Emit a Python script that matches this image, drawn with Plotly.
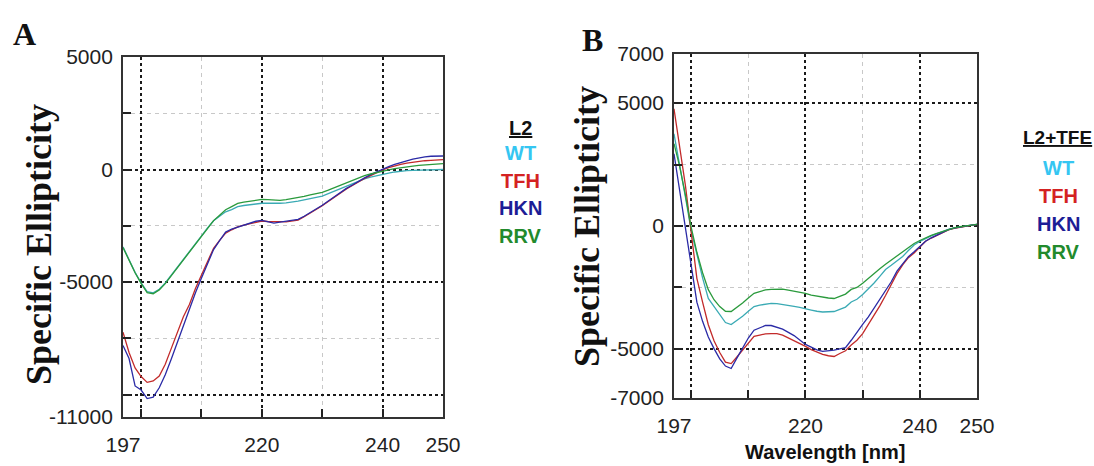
import plotly.graph_objects as go

# ---------------- data ----------------
wavelength = list(range(197, 251))

# Panel A: L2
a_wt = [-3440, -4000, -4570, -5040, -5430, -5480, -5320, -5040, -4700, -4330,
        -3980, -3640, -3290, -2950, -2600, -2280, -2080, -1880, -1780, -1650,
        -1600, -1560, -1520, -1500, -1500, -1510, -1500, -1480, -1450, -1410,
        -1350, -1290, -1240, -1180, -1070, -960, -850, -740, -630, -520,
        -420, -340, -270, -210, -160, -110, -70, -50, -40, -30,
        -20, -10, -5, 0]
a_tfh = [-7230, -8130, -8820, -9200, -9460, -9400, -9180, -8660, -7950, -7230,
         -6540, -6000, -5290, -4690, -4080, -3500, -3150, -2830, -2680, -2550,
         -2470, -2410, -2350, -2290, -2310, -2330, -2320, -2330, -2300, -2250,
         -2100, -1940, -1770, -1610, -1420, -1230, -1030, -860, -710, -550,
         -400, -270, -140, -20, 80, 160, 230, 280, 320, 370,
         390, 410, 425, 440]
a_hkn = [-7820, -8400, -9620, -9800, -10180, -10120, -9700, -9120, -8420, -7670,
         -6890, -6160, -5480, -4820, -4180, -3560, -3160, -2780, -2650, -2560,
         -2480, -2390, -2300, -2260, -2330, -2380, -2340, -2300, -2260, -2220,
         -2080, -1920, -1750, -1590, -1400, -1210, -1010, -840, -690, -520,
         -370, -230, -100, 30, 130, 230, 290, 380, 460, 520,
         560, 590, 580, 600]
a_rrv = [-3470, -4030, -4590, -5060, -5470, -5520, -5350, -5070, -4720, -4360,
         -4010, -3670, -3330, -2990, -2620, -2270, -2030, -1790, -1650, -1510,
         -1450, -1400, -1360, -1330, -1340, -1360, -1370, -1340, -1300, -1260,
         -1190, -1130, -1080, -1020, -920, -810, -700, -590, -480, -370,
         -270, -200, -130, -70, -15, 40, 85, 115, 150, 180,
         200, 225, 245, 265]

# Panel B: L2+TFE
b_wt = [3750, 2530, 1170, -180, -1190, -2110, -2950, -3270, -3640, -3930,
        -4010, -3850, -3670, -3470, -3280, -3220, -3170, -3150, -3160, -3190,
        -3220, -3270, -3310, -3350, -3420, -3470, -3500, -3490, -3480, -3390,
        -3300, -3090, -2980, -2790, -2560, -2320, -2050, -1770, -1600, -1430,
        -1240, -1000, -770, -630, -500, -400, -310, -210, -140, -80,
        -40, 10, 40, 70]
b_tfh = [4770, 3290, 1640, -250, -2130, -3100, -4020, -4670, -5150, -5540,
         -5600, -5330, -5040, -4760, -4490, -4440, -4390, -4380, -4380, -4440,
         -4550, -4660, -4780, -4900, -5030, -5130, -5220, -5280, -5310, -5190,
         -5080, -4840, -4650, -4380, -4020, -3660, -3250, -2830, -2390, -1940,
         -1580, -1290, -1100, -860, -620, -490, -380, -250, -160, -95,
         -50, 0, 40, 70]
b_hkn = [2940, 1420, -160, -1500, -3100, -3880, -4520, -4990, -5410, -5700,
         -5800, -5380, -4950, -4560, -4240, -4150, -4050, -4050, -4120, -4200,
         -4330, -4460, -4640, -4820, -4930, -5040, -5100, -5080, -5050, -5000,
         -4950, -4650, -4300, -4000, -3700, -3350, -3000, -2650, -2270, -1840,
         -1520, -1250, -1050, -850, -620, -480, -370, -250, -150, -90,
         -40, 0, 40, 70]
b_rrv = [3350, 2420, 1260, -50, -1070, -1900, -2590, -3000, -3280, -3470,
         -3480, -3310, -3130, -2930, -2740, -2670, -2600, -2580, -2560, -2570,
         -2610, -2650, -2690, -2740, -2810, -2860, -2910, -2930, -2950, -2850,
         -2770, -2580, -2500, -2330, -2120, -1920, -1740, -1560, -1390, -1230,
         -1050, -880, -710, -590, -470, -380, -300, -220, -140, -75,
         -30, 10, 40, 70]

series_names = ["WT", "TFH", "HKN", "RRV"]
line_colors = {"WT": "#3aaab4", "TFH": "#c22a2a", "HKN": "#2a2aa6", "RRV": "#2a9a3c"}
legend_colors = {"WT": "#35c6f2", "TFH": "#d42222", "HKN": "#1d1d96", "RRV": "#228a2c"}

x_tickvals = [197, 200, 220, 240, 250]
x_ticktext = ["197", "", "220", "240", "250"]
x_minor = [210, 230]
a_y_tickvals = [5000, 0, -5000, -10000, -11000]
a_y_ticktext = ["5000", "0", "-5000", "", "-11000"]
a_y_minor = [2500, -2500, -7500]
b_y_tickvals = [7000, 5000, 0, -5000, -7000]
b_y_ticktext = ["7000", "5000", "0", "-5000", "-7000"]
b_y_minor = [2500, -2500]

# ---------------- figure ----------------
fig = go.Figure()
panel_a = {"WT": a_wt, "TFH": a_tfh, "HKN": a_hkn, "RRV": a_rrv}
panel_b = {"WT": b_wt, "TFH": b_tfh, "HKN": b_hkn, "RRV": b_rrv}
for name in series_names:
    fig.add_trace(go.Scatter(x=wavelength, y=panel_a[name], mode="lines",
                             line=dict(color=line_colors[name], width=1.3),
                             xaxis="x", yaxis="y", showlegend=False))
for name in series_names:
    fig.add_trace(go.Scatter(x=wavelength, y=panel_b[name], mode="lines",
                             line=dict(color=line_colors[name], width=1.3),
                             xaxis="x2", yaxis="y2", showlegend=False))

W, H = 1094, 466


def px(x):
    return x / W


def py(y):
    return 1 - y / H


tick_font = dict(family="Liberation Sans Narrow, Arial Narrow, Liberation Sans, Arial", size=21, color="#222")


def xaxis_cfg(dom, anchor):
    return dict(domain=dom, anchor=anchor, range=[197, 250], automargin=False,
                tickmode="array", tickvals=x_tickvals, ticktext=x_ticktext,
                showgrid=True, gridcolor="#1a1a1a", griddash="3px,3px", gridwidth=2,
                ticks="inside", ticklen=8, tickwidth=1.5, tickcolor="#222",
                minor=dict(tickmode="array", tickvals=x_minor, showgrid=True,
                           gridcolor="#c8c8c8", griddash="4px,4px", gridwidth=1,
                           ticks="inside", ticklen=8, tickwidth=1.5, tickcolor="#222"),
                showline=True, mirror=True, linecolor="#333", linewidth=1.8,
                zeroline=False, tickfont=tick_font, ticklabelstandoff=8)


def yaxis_cfg(dom, anchor, rng, tv, tt, mv):
    return dict(domain=dom, anchor=anchor, range=rng, automargin=False,
                tickmode="array", tickvals=tv, ticktext=tt,
                showgrid=True, gridcolor="#1a1a1a", griddash="3px,3px", gridwidth=2,
                ticks="inside", ticklen=8, tickwidth=1.5, tickcolor="#222",
                minor=dict(tickmode="array", tickvals=mv, showgrid=True,
                           gridcolor="#c8c8c8", griddash="4px,4px", gridwidth=1,
                           ticks="inside", ticklen=8, tickwidth=1.5, tickcolor="#222"),
                showline=True, mirror=True, linecolor="#333", linewidth=1.8,
                zeroline=False, tickfont=tick_font, ticklabelstandoff=4)


fig.update_layout(
    width=W, height=H,
    margin=dict(l=0, r=0, t=0, b=0),
    paper_bgcolor="white", plot_bgcolor="white",
    showlegend=False,
    xaxis=xaxis_cfg([px(123), px(443)], "y"),
    yaxis=yaxis_cfg([py(417), py(57)], "x", [-11000, 5000],
                    a_y_tickvals, a_y_ticktext, a_y_minor),
    xaxis2=xaxis_cfg([px(674), px(977)], "y2"),
    yaxis2=yaxis_cfg([py(398), py(54)], "x2", [-7000, 7000],
                     b_y_tickvals, b_y_ticktext, b_y_minor),
)

serif_bold = "Liberation Serif, Times New Roman, serif"
ann = []
# panel letters
ann.append(dict(x=px(24), y=py(34), text="<b>A</b>", font=dict(family=serif_bold, size=32, color="#111")))
ann.append(dict(x=px(592), y=py(40), text="<b>B</b>", font=dict(family=serif_bold, size=32, color="#111")))
# y titles
ann.append(dict(x=px(39), y=py(245), text="<b>Specific Ellipticity</b>", textangle=-90,
                font=dict(family=serif_bold, size=36, color="#111")))
ann.append(dict(x=px(587), y=py(227), text="<b>Specific Ellipticity</b>", textangle=-90,
                font=dict(family=serif_bold, size=36, color="#111")))
# x title panel B
ann.append(dict(x=px(825), y=py(452), text="<b>Wavelength [nm]</b>",
                font=dict(family="Liberation Sans Narrow, Arial Narrow, Liberation Sans, Arial", size=20, color="#111")))

legend_font = "Liberation Sans, Arial, sans-serif"
# legend panel A
ann.append(dict(x=px(520), y=py(128), text="<u><b>L2</b></u>", font=dict(family=legend_font, size=20, color="#111")))
for i, name in enumerate(series_names):
    ann.append(dict(x=px(520), y=py(153 + 27.5 * i), text="<b>%s</b>" % name,
                    font=dict(family=legend_font, size=20, color=legend_colors[name])))
# legend panel B
ann.append(dict(x=px(1057), y=py(137), text="<u><b>L2+TFE</b></u>", font=dict(family=legend_font, size=19, color="#111")))
for i, name in enumerate(series_names):
    ann.append(dict(x=px(1058), y=py(168 + 28 * i), text="<b>%s</b>" % name,
                    font=dict(family=legend_font, size=20, color=legend_colors[name])))

for a in ann:
    a.update(xref="paper", yref="paper", showarrow=False, xanchor="center", yanchor="middle")
fig.update_layout(annotations=ann)

# remove the default 8px page margin so the figure fills the window exactly
fig.write_html("out.html", config={"displayModeBar": False},
               post_script="document.body.style.margin='0';")
